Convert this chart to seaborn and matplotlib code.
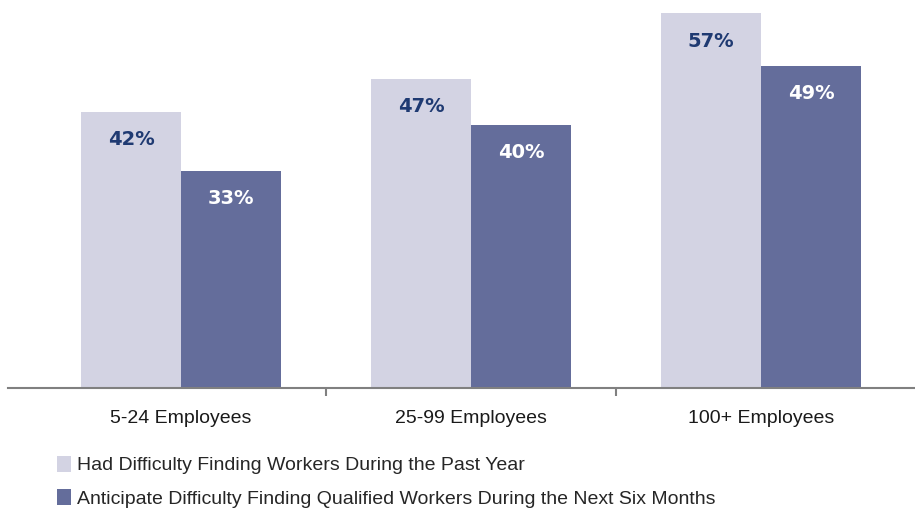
import matplotlib
matplotlib.use("Agg")
import matplotlib.pyplot as plt
import seaborn as sns
import pandas as pd
from matplotlib.patches import Patch

categories = ["5-24 Employees", "25-99 Employees", "100+ Employees"]
series_names = ["Had Difficulty Finding Workers During the Past Year",
                "Anticipate Difficulty Finding Qualified Workers During the Next Six Months"]
past_year = [42, 47, 57]
next_six = [33, 40, 49]

colors = ["#D3D3E3", "#646D9B"]
label_colors = ["#1F3A72", "#FFFFFF"]

df = pd.DataFrame({
    "category": categories * 2,
    "series": [series_names[0]] * 3 + [series_names[1]] * 3,
    "value": past_year + next_six,
})

sns.set_theme(style="white")
plt.rcParams['font.family'] = ['Liberation Sans', 'DejaVu Sans']

fig = plt.figure(figsize=(9.15, 5.08), dpi=100)
ax = fig.add_axes([8/915, 120/508, 1 - 8/915, 388/508])

sns.barplot(data=df, x="category", y="value", hue="series", palette=colors,
            width=0.69, ax=ax, legend=False, saturation=1, linewidth=0)

for cont, lc in zip(ax.containers, label_colors):
    ax.bar_label(cont, labels=[f"{int(v)}%" for v in cont.datavalues],
                 padding=-27, color=lc, fontsize=14, fontweight="bold",
                 family=["DejaVu Sans"])

ax.set_ylim(0, 59)
ax.set_xlim(-0.597, 2.531)
ax.set_xlabel("")
ax.set_ylabel("")
ax.set_yticks([])
for s in ["top", "right", "left"]:
    ax.spines[s].set_visible(False)
ax.spines["bottom"].set_color("#808080")
ax.spines["bottom"].set_linewidth(1.5)
ax.set_xticks([0, 1, 2])
ax.set_xticklabels(categories, fontsize=14, color="#1a1a1a")
ax.set_xticks([0.5, 1.5], minor=True)
ax.tick_params(axis="x", which="major", length=0, pad=16)
ax.tick_params(axis="x", which="minor", length=6, width=1.5, color="#808080", bottom=True)

handles = [Patch(facecolor=c, edgecolor="none") for c in colors]
fig.legend(handles, series_names, loc="upper left", bbox_to_anchor=(57/915, 1 - 456/508),
           frameon=False, fontsize=14, handlelength=0.7, handleheight=0.85,
           handletextpad=0.35, labelspacing=0.75, borderaxespad=0, borderpad=0)

fig.savefig("out.png", dpi=100)
